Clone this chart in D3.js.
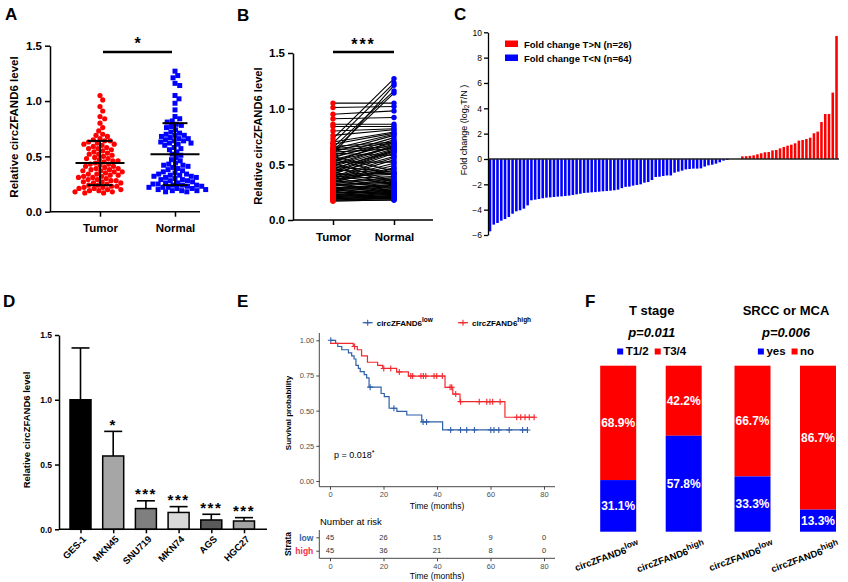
<!DOCTYPE html>
<html>
<head>
<meta charset="utf-8">
<script src="https://cdn.jsdelivr.net/npm/d3@7"></script>
<style>
  body { margin: 0; background: #fff; }
  svg { display: block; }
</style>
</head>
<body>
<svg id="fig" width="848" height="582"></svg>
<script>
const FONT = "'Liberation Sans', Arial, Helvetica, sans-serif";

// ---------- A / B : tumor vs normal ----------
const groupsAB = ["Tumor", "Normal"];
const tumorLevel = [1.05,1.01,0.95,0.91,0.86,0.84,0.80,0.76,0.73,0.70,
  0.69,0.68,0.66,0.65,0.64,0.64,0.63,0.62,0.61,0.61,
  0.60,0.59,0.58,0.57,0.57,0.56,0.55,0.54,0.53,0.52,
  0.52,0.51,0.50,0.49,0.48,0.48,0.47,0.46,0.46,0.45,
  0.44,0.43,0.43,0.42,0.41,0.41,0.40,0.39,0.39,0.38,
  0.38,0.37,0.37,0.36,0.36,0.35,0.34,0.34,0.33,0.33,
  0.32,0.32,0.31,0.31,0.30,0.29,0.29,0.28,0.28,0.27,
  0.27,0.26,0.26,0.25,0.24,0.24,0.23,0.23,0.22,0.22,
  0.21,0.21,0.20,0.20,0.19,0.19,0.18,0.18,0.17,0.17];
// paired with tumorLevel, same order
const normalLevel = [1.05,1.02,0.98,0.92,0.86,0.84,0.82,0.81,1.27,0.79,
  1.23,0.78,0.70,1.16,0.77,0.69,0.66,1.14,0.64,0.76,
  0.58,1.21,0.74,0.44,0.69,0.72,0.40,0.68,0.65,0.52,
  0.71,0.35,0.67,0.66,0.43,0.64,0.34,0.63,0.62,0.42,
  0.62,0.33,0.61,0.57,0.42,0.60,0.32,0.56,0.41,0.54,
  0.29,0.51,0.39,0.49,0.28,0.47,0.38,0.46,0.26,0.37,
  0.34,0.25,0.36,0.33,0.24,0.32,0.31,0.23,0.31,0.30,
  0.22,0.29,0.19,0.24,0.28,0.27,0.21,0.26,0.25,0.20,
  0.24,0.23,0.22,0.19,0.22,0.21,0.20,0.19,0.18,0.18];
const abMean = [0.44, 0.52];
const abSD = [0.20, 0.28];
const abTicks = [0, 0.5, 1.0, 1.5];

// ---------- C : fold change waterfall ----------
const foldLow = [-5.71,-5.18,-5.05,-4.87,-4.74,-4.58,-4.32,-4.13,-4.05,-3.92,
  -3.66,-3.26,-3.21,-3.16,-3.10,-3.05,-3.03,-3.00,-2.97,-2.95,
  -2.92,-2.89,-2.84,-2.79,-2.74,-2.68,-2.66,-2.63,-2.61,-2.58,
  -2.55,-2.53,-2.50,-2.47,-2.42,
  -2.30,-2.20,-2.18,-2.10,-2.05,-2.00,-1.87,-1.82,-1.66,-1.42,
  -1.40,-1.34,-1.30,-1.30,-1.08,-1.00,-0.92,-0.82,-0.79,-0.76,
  -0.76,-0.74,-0.60,-0.50,-0.45,-0.37,-0.26,-0.13,-0.08];
const foldEqual = [0, 0, 0];
const foldHigh = [0.21,0.22,0.25,0.29,0.37,0.45,0.53,0.55,0.68,0.71,
  0.84,0.95,1.05,1.13,1.24,1.45,1.50,1.58,1.68,2.03,
  2.16,2.92,3.55,3.55,5.24,9.71];
const foldTicks = [-6,-4,-2,0,2,4,6,8,10];
const foldLegend = ["Fold change T>N (n=26)", "Fold change T<N (n=64)"];

// ---------- D : cell lines ----------
const cellLines = ["GES-1","MKN45","SNU719","MKN74","AGS","HGC27"];
const cellMean = [1.00, 0.566, 0.16, 0.13, 0.072, 0.064];
const cellErr = [0.40, 0.19, 0.06, 0.045, 0.044, 0.026];
const cellSig = ["", "*", "***", "***", "***", "***"];
const cellFill = ["#000000","#a6a6a6","#7f7f7f","#d9d9d9","#5a5a5a","#a3a3a3"];

// ---------- E : Kaplan-Meier ----------
const kmLowTime = [0,2.1,2.9,4.4,6.9,8.1,9.0,9.7,10.6,11.3,12.8,13.7,14.6,19.1,20.3,22.1,25.0,28.7,34.3,42.1];
const kmLowSurv = [1.000,0.978,0.956,0.933,0.911,0.889,0.867,0.822,0.800,0.778,0.756,0.733,0.667,0.622,0.600,0.517,0.495,0.469,0.420,0.363];
const kmLowEnd = 73.8;
const kmLowCensor = [0.3,15.0,23.9,34.8,36.1,45.1,48.8,51.1,54.0,60.1,61.3,63.1,67.0,72.0,73.8];
const kmHighTime = [0,8.7,10.2,11.8,14.0,17.8,19.7,24.9,29.3,43.0,45.9,48.6,65.4];
const kmHighSurv = [0.978,0.956,0.933,0.889,0.844,0.822,0.800,0.775,0.746,0.666,0.618,0.564,0.453];
const kmHighEnd = 76.6;
const kmHighCensor = [9.2,20.1,22.7,25.9,30.2,30.9,34.0,34.9,35.8,38.9,39.9,42.0,44.9,45.5,47.0,48.8,55.8,58.6,59.8,60.8,63.6,69.8,71.3,72.9,74.5,76.3];
const kmTicksX = [0,20,40,60,80];
const kmTicksY = [0,0.25,0.5,0.75,1];
const riskLow = [45,26,15,9,0];
const riskHigh = [45,36,21,8,0];
const strata = ["low","high"];

// ---------- F : clinical proportions ----------
const fGroups = ["T stage", "SRCC or MCA"];
const fPvalue = ["p=0.011", "p=0.006"];
const fLegend = [["T1/2","T3/4"], ["yes","no"]];
const fLevels = ["low", "high"];
const fBlue = [[31.1, 57.8], [33.3, 13.3]];

const BLUE = "#0000ff", RED = "#ff0000";
const KMBLUE = "#2f5fa9", KMRED = "#f4282c";

const svg = d3.select("#fig").attr("font-family", FONT);

function letter(t, x, y) {
  svg.append("text").attr("x", x).attr("y", y)
    .attr("font-size", 17).attr("font-weight", "bold").text(t);
}

function styleAxis(g, size, weight, color, sw) {
  g.attr("font-family", FONT);
  g.selectAll("text").attr("font-size", size).attr("font-weight", weight).attr("fill", color || "#000");
  g.selectAll("line,path").attr("stroke", color === "#4d4d4d" ? "#333" : "#000").attr("stroke-width", sw || 1.5);
}

function yLabel(t, x, y, size, weight) {
  return svg.append("text").attr("transform", `translate(${x},${y}) rotate(-90)`)
    .attr("text-anchor", "middle").attr("font-size", size).attr("font-weight", weight || "bold").text(t);
}

// simple beeswarm: returns points with x offset
function swarm(vals, y, r) {
  const d = 2 * r;
  const pts = vals.map(v => ({ v, y: y(v) })).sort((a, b) => a.y - b.y);
  const placed = [];
  for (const p of pts) {
    const near = placed.filter(q => Math.abs(q.y - p.y) < d);
    const cands = [0];
    near.forEach(q => {
      const dx = Math.sqrt(d * d - (q.y - p.y) ** 2);
      cands.push(q.x + dx, q.x - dx);
    });
    cands.sort((a, b) => Math.abs(a) - Math.abs(b));
    p.x = cands.find(c => near.every(q => (q.x - c) ** 2 + (q.y - p.y) ** 2 >= d * d - 0.01));
    placed.push(p);
  }
  return pts;
}

//==================== A ====================
letter("A", 5, 20);
{
  const y = d3.scaleLinear().domain([0, 1.5]).range([211.7, 45.7]);
  const x = d3.scalePoint().domain(groupsAB).range([100, 175]);
  const gy = svg.append("g").attr("transform", "translate(50,0)")
    .call(d3.axisLeft(y).tickValues(abTicks).tickFormat(d3.format(".1f")).tickSize(5).tickPadding(3).tickSizeOuter(0));
  styleAxis(gy, 11.5, "bold");
  const gx = svg.append("g").attr("transform", `translate(0,${y(0)})`)
    .call(d3.axisBottom(x).tickSize(5).tickPadding(7).tickSizeOuter(0));
  gx.select(".domain").attr("d", "M50,0H200");
  styleAxis(gx, 11.5, "bold");
  yLabel("Relative circZFAND6 level", 18, 127, 11.5);

  const tp = swarm(tumorLevel, y, 2.6);
  svg.append("g").selectAll("circle").data(tp).join("circle")
    .attr("cx", d => x("Tumor") + d.x).attr("cy", d => d.y).attr("r", 2.6).attr("fill", RED);
  const np = swarm(normalLevel, y, 2.6);
  svg.append("g").selectAll("rect").data(np).join("rect")
    .attr("x", d => x("Normal") + d.x - 2.5).attr("y", d => d.y - 2.5)
    .attr("width", 5).attr("height", 5).attr("fill", BLUE);

  const st = svg.append("g").attr("stroke", "#000").attr("stroke-width", 2);
  groupsAB.forEach((gname, i) => {
    const cx = x(gname);
    st.append("line").attr("x1", cx - 24.5).attr("x2", cx + 24.5).attr("y1", y(abMean[i])).attr("y2", y(abMean[i]));
    st.append("line").attr("x1", cx).attr("x2", cx).attr("y1", y(abMean[i] - abSD[i])).attr("y2", y(abMean[i] + abSD[i]));
    [abMean[i] - abSD[i], abMean[i] + abSD[i]].forEach(v =>
      st.append("line").attr("x1", cx - 12.5).attr("x2", cx + 12.5).attr("y1", y(v)).attr("y2", y(v)));
  });
  svg.append("line").attr("x1", x("Tumor") + 3).attr("x2", x("Normal") - 3).attr("y1", 52).attr("y2", 52)
    .attr("stroke", "#000").attr("stroke-width", 2.5);
  svg.append("text").attr("x", (x("Tumor") + x("Normal")) / 2).attr("y", 49).attr("text-anchor", "middle")
    .attr("font-size", 16).attr("font-weight", "bold").text("*");
}

//==================== B ====================
letter("B", 237, 21);
{
  const y = d3.scaleLinear().domain([0, 1.5]).range([220, 53]);
  const x = d3.scalePoint().domain(groupsAB).range([333, 394]);
  const gy = svg.append("g").attr("transform", "translate(293,0)")
    .call(d3.axisLeft(y).tickValues(abTicks).tickFormat(d3.format(".1f")).tickSize(5).tickPadding(3).tickSizeOuter(0));
  styleAxis(gy, 11.5, "bold");
  const gx = svg.append("g").attr("transform", `translate(0,${y(0)})`)
    .call(d3.axisBottom(x).tickSize(5).tickPadding(8).tickSizeOuter(0));
  gx.select(".domain").attr("d", "M293,0H433");
  styleAxis(gx, 11.5, "bold");
  yLabel("Relative circZFAND6 level", 261.5, 136, 11.2);

  svg.append("g").selectAll("line").data(tumorLevel).join("line")
    .attr("x1", x("Tumor")).attr("x2", x("Normal"))
    .attr("y1", d => y(d)).attr("y2", (d, i) => y(normalLevel[i]))
    .attr("stroke", "#000").attr("stroke-width", 1.1);
  svg.append("g").selectAll("circle").data(tumorLevel).join("circle")
    .attr("cx", x("Tumor")).attr("cy", d => y(d)).attr("r", 2.7).attr("fill", RED);
  svg.append("g").selectAll("circle").data(normalLevel).join("circle")
    .attr("cx", x("Normal")).attr("cy", d => y(d)).attr("r", 2.7).attr("fill", BLUE);

  svg.append("line").attr("x1", x("Tumor")).attr("x2", x("Normal")).attr("y1", 52).attr("y2", 52)
    .attr("stroke", "#000").attr("stroke-width", 2.5);
  svg.append("text").attr("x", (x("Tumor") + x("Normal")) / 2).attr("y", 50).attr("text-anchor", "middle")
    .attr("font-size", 16).attr("font-weight", "bold").attr("letter-spacing", 2).text("***");
}

//==================== C ====================
letter("C", 454, 20);
{
  const vals = foldLow.concat(foldEqual, foldHigh);
  const y = d3.scaleLinear().domain([-6, 10]).range([235, 32.3]);
  const x = d3.scaleBand().domain(d3.range(vals.length)).range([488.5, 838]).paddingInner(0.32).paddingOuter(0.05);
  svg.append("g").selectAll("rect").data(vals).join("rect")
    .attr("x", (d, i) => x(i)).attr("width", x.bandwidth())
    .attr("y", d => Math.min(y(d), y(0))).attr("height", d => Math.abs(y(d) - y(0)))
    .attr("fill", d => d < 0 ? BLUE : RED);
  const gy = svg.append("g").attr("transform", "translate(488,0)")
    .call(d3.axisLeft(y).tickValues(foldTicks).tickSize(4).tickPadding(2).tickSizeOuter(0));
  styleAxis(gy, 8.5, "normal", "#000", 1.3);
  svg.append("line").attr("x1", 488).attr("x2", 839).attr("y1", y(0)).attr("y2", y(0))
    .attr("stroke", "#222").attr("stroke-width", 1.6);

  const lab = svg.append("text").attr("transform", "translate(466.5,130) rotate(-90)")
    .attr("text-anchor", "middle").attr("font-size", 9);
  lab.append("tspan").text("Fold change (log");
  lab.append("tspan").attr("dy", 2.5).attr("font-size", 6.5).text("2");
  lab.append("tspan").attr("dy", -2.5).text("T/N )");

  const lg = svg.append("g").attr("font-size", 9.5).attr("font-weight", "bold");
  [RED, BLUE].forEach((c, i) => {
    lg.append("rect").attr("x", 505).attr("y", 40.5 + i * 14).attr("width", 13).attr("height", 6.5).attr("fill", c);
    lg.append("text").attr("x", 524).attr("y", 47.5 + i * 14).text(foldLegend[i]);
  });
}

//==================== D ====================
letter("D", 3, 307);
{
  const y = d3.scaleLinear().domain([0, 1.5]).range([529.3, 335]);
  const x = d3.scalePoint().domain(cellLines).range([80.5, 244]);
  const bw = 21;
  svg.append("g").selectAll("line").data(cellLines).join("line")
    .attr("x1", d => x(d)).attr("x2", d => x(d))
    .attr("y1", (d, i) => y(cellMean[i])).attr("y2", (d, i) => y(cellMean[i] + cellErr[i]))
    .attr("stroke", "#000").attr("stroke-width", 1.6);
  svg.append("g").selectAll("line").data(cellLines).join("line")
    .attr("x1", d => x(d) - 9).attr("x2", d => x(d) + 9)
    .attr("y1", (d, i) => y(cellMean[i] + cellErr[i])).attr("y2", (d, i) => y(cellMean[i] + cellErr[i]))
    .attr("stroke", "#000").attr("stroke-width", 1.6);
  svg.append("g").selectAll("rect").data(cellLines).join("rect")
    .attr("x", d => x(d) - bw / 2).attr("width", bw)
    .attr("y", (d, i) => y(cellMean[i])).attr("height", (d, i) => y(0) - y(cellMean[i]))
    .attr("fill", (d, i) => cellFill[i]).attr("stroke", "#000").attr("stroke-width", 1.5);
  svg.append("g").selectAll("text").data(cellLines).join("text")
    .attr("x", d => x(d)).attr("y", (d, i) => y(cellMean[i] + cellErr[i]) - 1.5)
    .attr("text-anchor", "middle").attr("font-size", 15).attr("font-weight", "bold").attr("letter-spacing", 1.5)
    .text((d, i) => cellSig[i]);

  const gy = svg.append("g").attr("transform", "translate(59,0)")
    .call(d3.axisLeft(y).tickValues(abTicks).tickFormat(d3.format(".1f")).tickSize(4).tickPadding(3).tickSizeOuter(0));
  styleAxis(gy, 8.5, "bold");
  const gx = svg.append("g").attr("transform", `translate(0,${y(0)})`)
    .call(d3.axisBottom(x).tickSize(4).tickFormat("").tickSizeOuter(0));
  gx.select(".domain").attr("d", "M59,0H267");
  styleAxis(gx, 8.5, "bold");
  svg.append("g").selectAll("text").data(cellLines).join("text")
    .attr("transform", d => `translate(${x(d) + 4},${y(0) + 8}) rotate(-45)`)
    .attr("text-anchor", "end").attr("dy", "0.35em").attr("font-size", 9.5).attr("font-weight", "bold")
    .text(d => d);
  yLabel("Relative circZFAND6 level", 30, 430, 9.5);
}

//==================== E ====================
letter("E", 237, 307);
{
  const x = d3.scaleLinear().domain([0, 80]).range([330, 544]);
  const y = d3.scaleLinear().domain([0, 1]).range([481, 340.3]);
  const axisX = 319.3;
  const gy = svg.append("g").attr("transform", `translate(${axisX},0)`)
    .call(d3.axisLeft(y).tickValues(kmTicksY).tickFormat(d3.format(".2f")).tickSize(3).tickPadding(2));
  gy.select(".domain").attr("d", "M0,333V486.7");
  styleAxis(gy, 7.5, "normal", "#4d4d4d", 0.9);
  const gx = svg.append("g").attr("transform", "translate(0,486.7)")
    .call(d3.axisBottom(x).tickValues(kmTicksX).tickSize(3).tickPadding(2));
  gx.select(".domain").attr("d", `M${axisX},0H555`);
  styleAxis(gx, 7.5, "normal", "#4d4d4d", 0.9);
  svg.append("text").attr("x", 437).attr("y", 509).attr("text-anchor", "middle").attr("font-size", 8.5).text("Time (months)");
  yLabel("Survival probability", 290.5, 413, 8, "bold");

  const line = d3.line().x(d => x(d[0])).y(d => y(d[1])).curve(d3.curveStepAfter);
  const curves = [
    { t: kmLowTime, s: kmLowSurv, end: kmLowEnd, cens: kmLowCensor, c: KMBLUE },
    { t: kmHighTime, s: kmHighSurv, end: kmHighEnd, cens: kmHighCensor, c: KMRED }
  ];
  const cross = "M-3,0H3M0,-3V3";
  curves.forEach(k => {
    const pts = k.t.map((t, i) => [t, k.s[i]]).concat([[k.end, k.s[k.s.length - 1]]]);
    svg.append("path").attr("d", line(pts)).attr("fill", "none").attr("stroke", k.c).attr("stroke-width", 1.2);
    const survAt = t => k.s[Math.max(0, d3.bisectRight(k.t, t) - 1)];
    svg.append("g").selectAll("path").data(k.cens).join("path")
      .attr("transform", t => `translate(${x(t)},${y(survAt(t))})`)
      .attr("d", cross).attr("stroke", k.c).attr("stroke-width", 1.1);
  });

  // legend
  const lg = svg.append("g").attr("font-size", 8).attr("font-weight", "bold");
  [[362.7, KMBLUE, "low"], [458, KMRED, "high"]].forEach(([lx, c, lv]) => {
    lg.append("line").attr("x1", lx).attr("x2", lx + 10).attr("y1", 322.7).attr("y2", 322.7).attr("stroke", c).attr("stroke-width", 1.2);
    lg.append("path").attr("transform", `translate(${lx + 5},322.7)`).attr("d", cross).attr("stroke", c).attr("stroke-width", 1.1);
    const t = lg.append("text").attr("x", lx + 14).attr("y", 325.5);
    t.append("tspan").text("circZFAND6");
    t.append("tspan").attr("dy", -3.5).attr("font-size", 6.5).text(lv);
  });
  svg.append("text").attr("x", 334).attr("y", 458).attr("font-size", 9)
    .call(t => { t.append("tspan").text("p = 0.018"); t.append("tspan").attr("dy", -3.5).attr("font-size", 7).text("*"); });

  // risk table
  svg.append("text").attr("x", 320).attr("y", 525).attr("font-size", 9.5).text("Number at risk");
  const yr = d3.scalePoint().domain(strata).range([537.3, 550.7]);
  const gr = svg.append("g").attr("transform", `translate(${axisX},0)`)
    .call(d3.axisLeft(yr).tickSize(3).tickPadding(3));
  gr.select(".domain").attr("d", "M0,530V558.3");
  styleAxis(gr, 8.5, "bold", "#4d4d4d", 0.9);
  gr.selectAll("text").attr("fill", d => d === "low" ? KMBLUE : "#f0304a");
  const gr2 = svg.append("g").attr("transform", "translate(0,558.3)")
    .call(d3.axisBottom(x).tickValues(kmTicksX).tickSize(3).tickPadding(2));
  gr2.select(".domain").attr("d", `M${axisX},0H555`);
  styleAxis(gr2, 7.5, "normal", "#4d4d4d", 0.9);
  svg.append("text").attr("x", 437).attr("y", 579).attr("text-anchor", "middle").attr("font-size", 8.5).text("Time (months)");
  yLabel("Strata", 290.5, 544, 8.5, "bold");
  [riskLow, riskHigh].forEach((row, r) => {
    svg.append("g").selectAll("text").data(row).join("text")
      .attr("x", (d, i) => x(kmTicksX[i])).attr("y", yr(strata[r])).attr("dy", "0.35em")
      .attr("text-anchor", "middle").attr("font-size", 7.5).attr("fill", "#333").text(d => d);
  });
}

//==================== F ====================
letter("F", 585, 307);
{
  const y = d3.scaleLinear().domain([0, 100]).range([531.7, 365.7]);
  const xo = d3.scalePoint().domain(fGroups).range([651.7, 786]);
  const xi = d3.scalePoint().domain(fLevels).range([-33.5, 32]);
  const bw = 36;
  fGroups.forEach((gname, gi) => {
    const cx = xo(gname);
    svg.append("text").attr("x", cx).attr("y", 315).attr("text-anchor", "middle")
      .attr("font-size", 13).attr("font-weight", "bold").text(gname);
    svg.append("text").attr("x", cx).attr("y", 336.5).attr("text-anchor", "middle")
      .attr("font-size", 13).attr("font-weight", "bold").attr("font-style", "italic").text(fPvalue[gi]);

    // legend, centred on the group
    const lg = svg.append("g").attr("font-size", 11.5).attr("font-weight", "bold");
    let off = 0;
    [BLUE, RED].forEach((c, k) => {
      lg.append("rect").attr("x", off).attr("y", -6.5).attr("width", 6).attr("height", 6).attr("fill", c);
      const t = lg.append("text").attr("x", off + 8.5).attr("y", 0).text(fLegend[gi][k]);
      off += 8.5 + t.node().getComputedTextLength() + 6;
    });
    lg.attr("transform", `translate(${cx - (off - 6) / 2},355)`);

    fLevels.forEach((lv, li) => {
      const bx = cx + xi(lv);
      const b = fBlue[gi][li];
      svg.append("rect").attr("x", bx - bw / 2).attr("width", bw).attr("y", y(100)).attr("height", y(b) - y(100)).attr("fill", RED);
      svg.append("rect").attr("x", bx - bw / 2).attr("width", bw).attr("y", y(b)).attr("height", y(0) - y(b)).attr("fill", BLUE);
      const pct = d3.format(".1f");
      svg.append("text").attr("x", bx).attr("y", (y(100) + y(b)) / 2).attr("dy", "0.36em").attr("text-anchor", "middle")
        .attr("font-size", 12).attr("font-weight", "bold").attr("fill", "#fff").text(pct(100 - b) + "%");
      svg.append("text").attr("x", bx).attr("y", (y(b) + y(0)) / 2).attr("dy", "0.36em").attr("text-anchor", "middle")
        .attr("font-size", 12).attr("font-weight", "bold").attr("fill", "#fff").text(pct(b) + "%");
      const t = svg.append("text").attr("transform", `translate(${bx + 22},548) rotate(-20)`)
        .attr("text-anchor", "end").attr("font-size", 9.5).attr("font-weight", "bold");
      t.append("tspan").text("circZFAND6");
      t.append("tspan").attr("dy", -4).attr("font-size", 8.5).text(lv);
    });
  });
}
</script>
</body>
</html>
